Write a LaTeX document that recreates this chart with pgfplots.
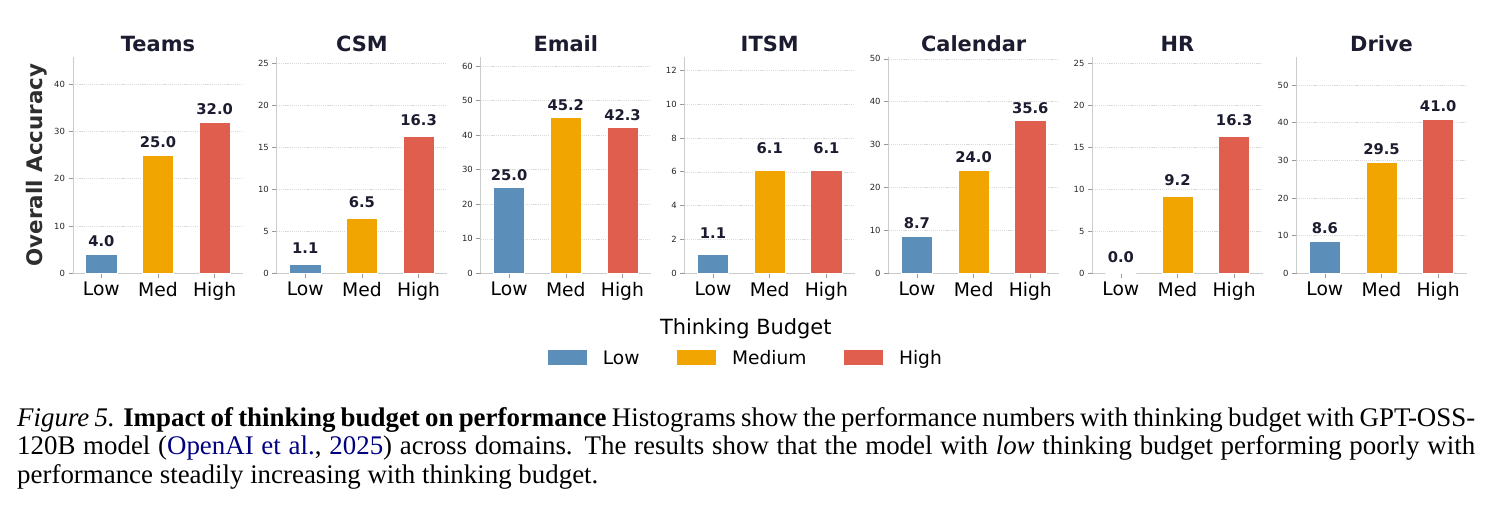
\documentclass[border=0pt]{standalone}
\usepackage{fontspec}
\setmainfont{DejaVu Sans}
\newfontfamily\capfont{Liberation Serif}
\usepackage{pgfplots}
\pgfplotsset{compat=1.18}

\definecolor{cLow}{HTML}{5B8EB9}
\definecolor{cMed}{HTML}{F0A500}
\definecolor{cHigh}{HTML}{E05E4D}
\definecolor{navy}{HTML}{1C1C30}
\definecolor{spine}{HTML}{CCCCCC}
\definecolor{citeblue}{HTML}{000080}

\pgfplotsset{
  panel/.style={
    scale only axis, width=170bp, height=216.6bp, anchor=south west,
    xmin=-0.5, xmax=2.5, ymin=0,
    xtick={0,1,2}, xticklabels={Low,Med,High},
    axis x line*=bottom, axis y line*=left,
    axis line style={draw=spine, line width=0.9bp},
    tick align=outside, major tick length=4.5bp,
    tick style={draw=gray!80, line width=0.6bp},
    ymajorgrids,
    major grid style={draw=gray!28, line width=0.5bp, dash pattern=on 1.2bp off 0.9bp},
    xticklabel style={font=\fontsize{18.8}{18.8}\selectfont, text=black, yshift=-1bp},
    yticklabel style={font=\fontsize{8.5}{8.5}\selectfont, text=black!85},
    title style={font=\bfseries\fontsize{21}{21}\selectfont, text=navy,
                 at={(0.5,1)}, anchor=base, yshift=-0.6bp},
    /pgf/number format/assume math mode=true,
    nodes near coords={\pgfmathprintnumber[fixed,zerofill,precision=1]{\pgfplotspointmeta}},
    nodes near coords style={font=\bfseries\fontsize{14.8}{14.8}\selectfont,
                             text=navy, anchor=south, inner sep=0pt},
    clip=false,
  },
  lbl/.style={every node near coord/.append style={yshift=#1}},
  bar/.style={ybar, bar width=0.55, draw=white, line width=0.6bp, fill=#1},
}

\begin{document}
\begin{tikzpicture}
\path[use as bounding box] (0,0) rectangle (1495bp,508bp);

% Teams
\begin{axis}[panel, at={(73bp,234.7bp)}, title={Teams}, ymax=45.8,
  ytick={0,10,...,40}, lbl=7bp,
  ylabel={Overall Accuracy},
  ylabel style={at={(axis description cs:-0.2135,0.5)}, anchor=center,
                font=\bfseries\fontsize{21.5}{21.5}\selectfont, text=black!82}]
\addplot[bar=cLow]  coordinates {(0,4.0)};
\addplot[bar=cMed]  coordinates {(1,25.0)};
\addplot[bar=cHigh] coordinates {(2,32.0)};
\end{axis}

% CSM
\begin{axis}[panel, at={(276.9bp,234.7bp)}, title={CSM}, ymax=25.8,
  ytick={0,5,...,25}, lbl=10.7bp]
\addplot[bar=cLow]  coordinates {(0,1.1)};
\addplot[bar=cMed]  coordinates {(1,6.5)};
\addplot[bar=cHigh] coordinates {(2,16.3)};
\end{axis}

% Email
\begin{axis}[panel, at={(480.8bp,234.7bp)}, title={Email}, ymax=62.7,
  ytick={0,10,...,60}, lbl=6bp]
\addplot[bar=cLow]  coordinates {(0,25.0)};
\addplot[bar=cMed]  coordinates {(1,45.2)};
\addplot[bar=cHigh] coordinates {(2,42.3)};
\end{axis}

% ITSM (carries the shared legend)
\begin{axis}[panel, at={(684.7bp,234.7bp)}, title={ITSM}, ymax=12.8,
  ytick={0,2,...,12}, lbl=16.3bp,
  legend columns=3,
  legend image code/.code={\fill[#1,draw=none] (0bp,0bp) rectangle (39bp,14.3bp);},
  legend style={draw=none, fill=none, inner sep=0pt, outer sep=0pt,
    at={(axis description cs:-0.8059,-0.3927)}, anchor=west,
    font=\fontsize{18.7}{18.7}\selectfont,
    cells={anchor=base west, inner sep=0pt},
    /tikz/every odd column/.append style={column sep=14.2bp},
    /tikz/every even column/.append style={column sep=35.3bp}}]
\addplot[bar=cLow]  coordinates {(0,1.1)};
\addlegendentry{Low}
\addplot[bar=cMed]  coordinates {(1,6.1)};
\addlegendentry{Medium}
\addplot[bar=cHigh] coordinates {(2,6.1)};
\addlegendentry{High}
\end{axis}

% Calendar
\begin{axis}[panel, at={(888.6bp,234.7bp)}, title={Calendar}, ymax=50.5,
  ytick={0,10,...,50}, lbl=7bp]
\addplot[bar=cLow]  coordinates {(0,8.7)};
\addplot[bar=cMed]  coordinates {(1,24.0)};
\addplot[bar=cHigh] coordinates {(2,35.6)};
\end{axis}

% HR
\begin{axis}[panel, at={(1092.5bp,234.7bp)}, title={HR}, ymax=25.8,
  ytick={0,5,...,25}, lbl=10bp]
\addplot[bar=cLow]  coordinates {(0,0.0)};
\addplot[bar=cMed]  coordinates {(1,9.2)};
\addplot[bar=cHigh] coordinates {(2,16.3)};
\end{axis}

% Drive
\begin{axis}[panel, at={(1296.5bp,234.7bp)}, title={Drive}, ymax=57.5,
  ytick={0,10,...,50}, lbl=6.7bp]
\addplot[bar=cLow]  coordinates {(0,8.6)};
\addplot[bar=cMed]  coordinates {(1,29.5)};
\addplot[bar=cHigh] coordinates {(2,41.0)};
\end{axis}

% legend title
\node[anchor=base, inner sep=0pt, font=\fontsize{21}{21}\selectfont]
  at (745.8bp,173.7bp) {Thinking Budget};

% caption
\begin{scope}[every node/.style={anchor=base west, inner sep=0pt,
    font=\capfont\fontsize{27}{28}\selectfont}]
\node at (17bp,81bp) {\makebox[1458bp][s]{\textit{Figure 5.} \textbf{Impact of thinking budget on performance} Histograms show the performance numbers with thinking budget with GPT-OSS-}};
\node at (17bp,53bp) {\makebox[1458bp][s]{120B model (\textcolor{citeblue}{OpenAI et al.}, \textcolor{citeblue}{2025}) across domains. The results show that the model with \textit{low} thinking budget performing poorly with}};
\node at (17bp,25bp) {performance steadily increasing with thinking budget.};
\end{scope}
\end{tikzpicture}
\end{document}
